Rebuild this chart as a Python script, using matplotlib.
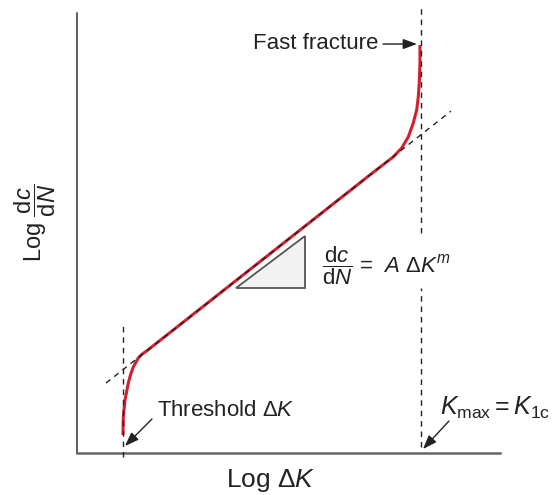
import matplotlib
matplotlib.use("Agg")
import matplotlib.pyplot as plt
from matplotlib.patches import Polygon

plt.rcParams["font.family"] = ["Liberation Sans", "DejaVu Sans"]
plt.rcParams["mathtext.fontset"] = "custom"
plt.rcParams["mathtext.rm"] = "Liberation Sans"
plt.rcParams["mathtext.it"] = "Liberation Sans:italic"
plt.rcParams["mathtext.bf"] = "Liberation Sans:bold"

# crack growth curve (log dK, log dc/dN in arbitrary units)
curve_x = [1.087, 1.095, 1.135, 1.213, 1.265, 1.331, 1.449, 1.530, 1.66,
           2.5, 4.0, 5.5, 7.0, 7.478, 7.676, 7.832, 7.950, 8.031, 8.069,
           8.092, 8.109, 8.109]
curve_y = [0.409, 0.818, 1.205, 1.591, 1.773, 1.955, 2.159, 2.24, 2.33,
           2.965, 4.102, 5.239, 6.376, 6.73, 6.932, 7.182, 7.500, 7.795,
           8.091, 8.409, 8.864, 9.273]

# Paris law asymptote
paris_x = [0.686, 8.84]
paris_y = [1.59, 7.77]

# threshold and K1c lines
threshold_x = 1.087
k1c_x = 8.132

# slope triangle
tri_x = [3.76, 5.39, 5.39]
tri_y = [3.75, 3.75, 4.93]

fig = plt.figure(figsize=(5.57, 4.95), dpi=100)
ax = fig.add_axes([0.1382, 0.0848, 0.7594, 0.8889])
ax.set_xlim(0, 10)
ax.set_ylim(0, 10)

for s in ["top", "right"]:
    ax.spines[s].set_visible(False)
ax.spines["left"].set_color("#333333")
ax.spines["left"].set_linewidth(1.1)
ax.spines["bottom"].set_color("#666666")
ax.spines["bottom"].set_linewidth(1.8)
ax.set_xticks([])
ax.set_yticks([])

tri = Polygon(list(zip(tri_x, tri_y)), closed=True, facecolor="#f2f2f2",
              edgecolor="#555555", lw=1.3)
ax.add_patch(tri)

ax.plot(curve_x, curve_y, color="#d1202f", lw=2.2, solid_capstyle="butt",
        solid_joinstyle="round", zorder=4)

dash = dict(color="#222222", lw=1.0, dashes=(4, 3.5), clip_on=False, zorder=5)
ax.plot(paris_x, paris_y, **dash)
ax.plot([threshold_x, threshold_x], [-0.1, 2.95], **dash)
ax.plot([k1c_x, k1c_x], [0.14, 3.75], **dash)
ax.plot([k1c_x, k1c_x], [5.0, 10.11], **dash)

ax.text(5.79, 4.27,
        r"$\dfrac{\mathrm{d}c}{\mathrm{d}N}$ = $\ A\ \Delta K^m$",
        fontsize=16, va="center", ha="left", color="#222222")

arrow = dict(arrowstyle="-|>,head_length=0.6,head_width=0.22",
             color="#222222", lw=1.0, mutation_scale=14,
             shrinkA=0, shrinkB=0)
ax.annotate("", xy=(8.038, 9.295), xytext=(7.234, 9.295), arrowprops=arrow)
ax.text(7.116, 9.318, "Fast fracture", fontsize=16, va="center",
        ha="right", color="#222222")
ax.annotate("", xy=(1.135, 0.159), xytext=(1.773, 0.773), arrowprops=arrow)
ax.text(1.891, 0.977, r"Threshold $\Delta K$", fontsize=16, va="center",
        ha="left", color="#222222")
ax.annotate("", xy=(8.18, 0.091), xytext=(8.794, 0.727), arrowprops=arrow)
ax.text(8.58, 1.02, r"$K_{\mathrm{max}} = K_{\mathrm{1c}}$", fontsize=18,
        va="center", ha="left", color="#222222", clip_on=False)

ax.text(0.4586, -0.0773, r"Log $\Delta K$", transform=ax.transAxes,
        fontsize=19, ha="center", va="baseline", color="#222222")
ax.text(-0.0993, 0.523, r"Log $\dfrac{\mathrm{d}c}{\mathrm{d}N}$",
        transform=ax.transAxes, fontsize=17, rotation=90, ha="center",
        va="center", color="#222222")

fig.savefig("out.png", dpi=100)
